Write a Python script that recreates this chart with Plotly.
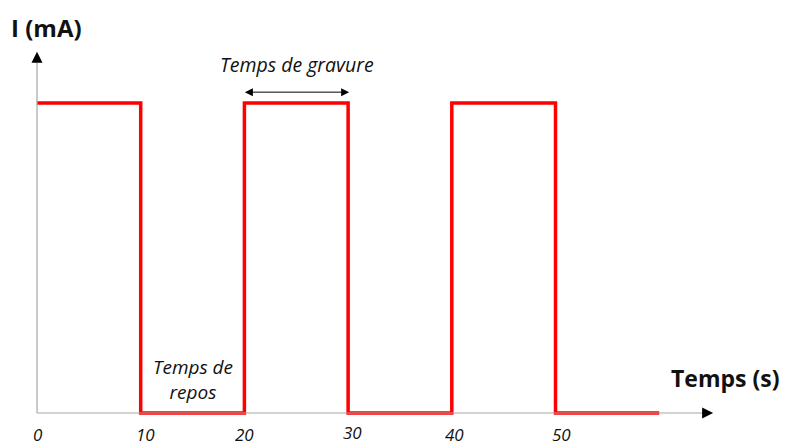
import plotly.graph_objects as go

# Data
temps = [0, 10, 20, 30, 40, 50, 60]
courant = [1, 0, 1, 0, 1, 0, 0]
tick_vals = [0, 10, 20, 30, 40, 50]
tick_text = ["0", "10", "20", "30", "40", "50"]

RED = "#FF0000"
GRAY = "#A6A6A6"
FONT = "Open Sans"

fig = go.Figure()
fig.add_trace(go.Scatter(
    x=temps, y=courant, mode="lines", line_shape="hv",
    line=dict(color=RED, width=3.5), hoverinfo="skip", showlegend=False,
))

# axis lines (gray) with black arrowheads
fig.add_shape(type="line", x0=0, y0=0, x1=64.6, y1=0, line=dict(color=GRAY, width=1.2))
fig.add_shape(type="line", x0=0, y0=0, x1=0, y1=1.14, line=dict(color=GRAY, width=1.2))
fig.add_annotation(x=65.2, y=0, ax=64.0, ay=0, axref="x", ayref="y", xref="x", yref="y",
                   showarrow=True, arrowhead=2, arrowsize=2.2, arrowwidth=1, arrowcolor="black", text="")
fig.add_annotation(x=0, y=1.165, ax=0, ay=1.13, axref="x", ayref="y", xref="x", yref="y",
                   showarrow=True, arrowhead=2, arrowsize=2.2, arrowwidth=1, arrowcolor="black", text="")

# double arrow "Temps de gravure"
fig.add_annotation(x=30.1, y=1.035, ax=19.9, ay=1.035, axref="x", ayref="y", xref="x", yref="y",
                   showarrow=True, arrowhead=2, startarrowhead=2, arrowside="end+start",
                   arrowsize=1.6, startarrowsize=1.6, arrowwidth=1, arrowcolor="black", text="")

fig.add_annotation(x=25.07, y=1.123, text="<i>Temps de gravure</i>", showarrow=False,
                   font=dict(family=FONT, size=19.5, color="#111111"))
fig.add_annotation(x=15.04, y=0.108, text="<i>Temps de<br>repos</i>", showarrow=False,
                   font=dict(family=FONT, size=19, color="#111111"))
fig.add_annotation(x=66.3, y=0.113, text="<b>Temps (s)</b>", showarrow=False,
                   font=dict(family=FONT, size=23, color="#111111"))
fig.add_annotation(x=0.9, y=1.242, text="<b>I (mA)</b>", showarrow=False,
                   font=dict(family=FONT, size=24, color="#111111"))

xshifts = [1, 5, 0, 4, 3, 6]
yshifts = [-21, -21, -21, -19, -21, -21]
for v, t, dx, dy in zip(tick_vals, tick_text, xshifts, yshifts):
    fig.add_annotation(x=v, y=0, text=f"<i>{t}</i>", showarrow=False, xshift=dx, yshift=dy,
                       borderpad=0, height=18, valign="middle",
                       font=dict(family=FONT, size=17, color="#111111"))

fig.update_xaxes(visible=False, range=[-3.568, 72.13])
fig.update_yaxes(visible=False, range=[-0.1, 1.3])
fig.update_layout(width=785, height=444, margin=dict(l=0, r=0, t=10, b=0),
                  plot_bgcolor="white", paper_bgcolor="white")

fig.write_html("out.html", config={"displayModeBar": False},
               post_script="document.body.style.margin='0';document.body.style.overflow='hidden';")
